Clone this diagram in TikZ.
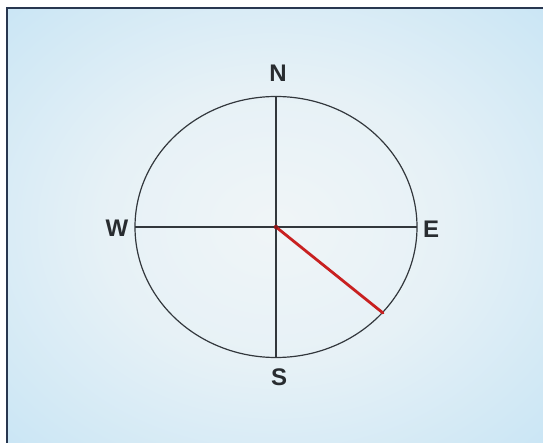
\documentclass[tikz,border=0pt]{standalone}
\usepackage{fontspec}
\setmainfont{Liberation Sans}
\usetikzlibrary{positioning}
\definecolor{PanelBlue}{RGB}{176,219,243}
\definecolor{CornerBlue}{RGB}{110,184,235}
\definecolor{CenterWhite}{RGB}{240,245,247}
\definecolor{NeedleRed}{RGB}{200,32,32}
\definecolor{LineGray}{RGB}{50,55,60}
\definecolor{EdgeNavy}{RGB}{40,55,80}
\pgfdeclareradialshading{panelglow}{\pgfpoint{0bp}{0bp}}{%
  color(0bp)=(CenterWhite); color(16bp)=(CenterWhite!85!PanelBlue);
  color(36bp)=(CenterWhite!40!PanelBlue); color(50bp)=(PanelBlue);
  color(72bp)=(CornerBlue)}

\begin{document}
\begin{tikzpicture}[x=1pt,y=-1pt,
  dirlabel/.style={font=\fontsize{24}{24}\selectfont\bfseries,text=LineGray!80!black,inner sep=0pt}]
  \useasboundingbox (0,0) rectangle (543,443);
  \fill[white] (0,0) rectangle (543,443);
  % background panel
  \shade[shading=panelglow] (7,8) rectangle (543,443);
  \draw[EdgeNavy,line width=1.4pt] (7,443)--(7,8)--(543,8);
  \coordinate (O) at (276,227);
  \coordinate (T) at (276,96);
  \coordinate (B) at (276,357);
  \coordinate (L) at (135,227);
  \coordinate (R) at (417,227);
  \coordinate (P) at (383,313);
  \draw[LineGray,line width=1.2pt] (O) ellipse [x radius=141, y radius=130.5];
  \draw[LineGray,line width=1.1pt] (T)--(B);
  \draw[LineGray,line width=1.1pt] (L)--(R);
  \draw[NeedleRed,line width=2.8pt,line cap=round] (O)--(P);
  \fill[NeedleRed!70!black] (O) circle (2.2);
  \node[dirlabel] (labN) at (278,73) {N};
  \node[dirlabel] (labS) at (279,377) {S};
  \node[dirlabel] (labW) at (117,228) {W};
  \node[dirlabel] (labE) at (431,229) {E};
\end{tikzpicture}
\end{document}
